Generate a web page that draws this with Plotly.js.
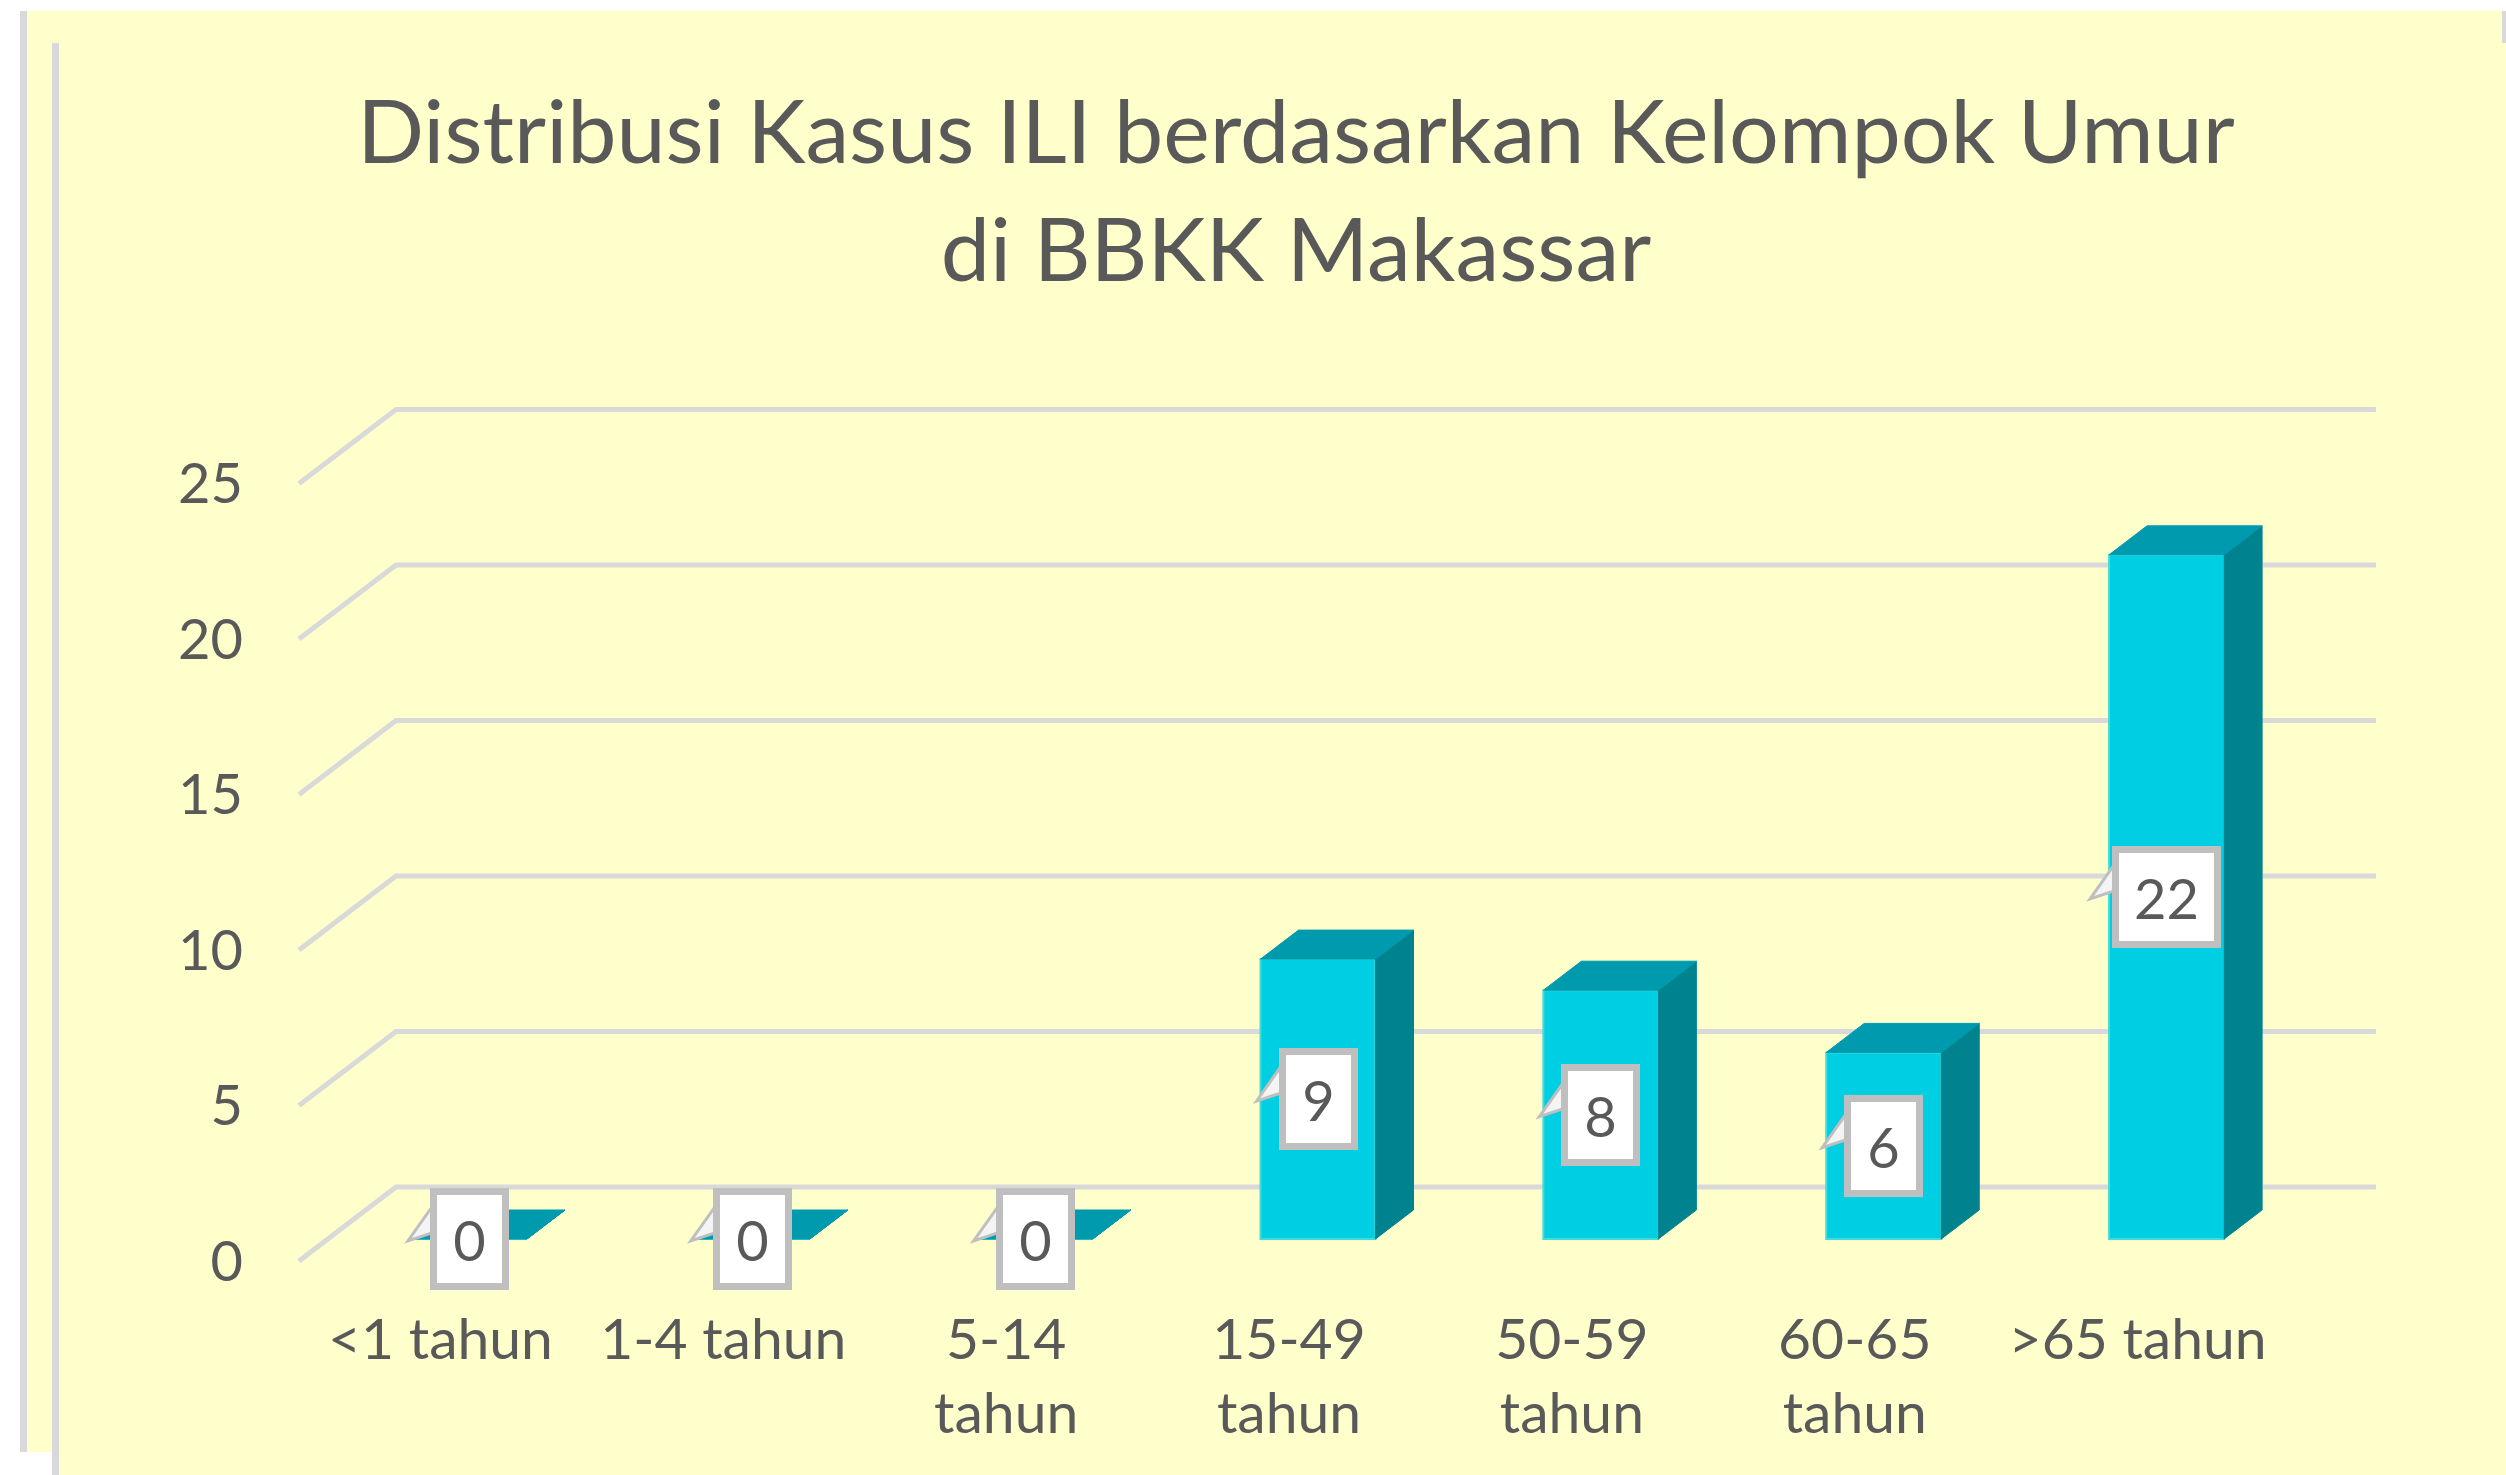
<!DOCTYPE html>
<html>
<head>
<meta charset="utf-8">
<script src="https://cdn.plot.ly/plotly-3.0.1.min.js"></script>
<style>
  html, body { margin: 0; padding: 0; background: #ffffff; }
  #chart { width: 2506px; height: 1475px; }
</style>
</head>
<body>
<div id="chart"></div>
<script>
// ---------------- data ----------------
const categories = ['&lt;1 tahun', '1-4 tahun', '5-14<br>tahun', '15-49<br>tahun', '50-59<br>tahun', '60-65<br>tahun', '&gt;65 tahun'];
const values = [0, 0, 0, 9, 8, 6, 22];
const yTicks = [0, 5, 10, 15, 20, 25];
const titleLine1 = 'Distribusi Kasus ILI berdasarkan Kelompok Umur';
const titleLine2 = 'di BBKK Makassar';

// ---------------- geometry (pixels) ----------------
const W = 2506, H = 1475;
const FRONT_LEFT = 299, FRONT_ZERO = 1261;
const PX_CAT = 282.86, PX_VAL = 31.1;
const PLOT_L = 289, PLOT_R = 2386, PLOT_T = 402, PLOT_B = 1271;
const WALL_DX = 97, WALL_DY = 74;       // depth of the whole floor/back wall
const BAR_OFF_DX = 29, BAR_OFF_DY = 22; // front face of the bars
const BAR_DX = 38, BAR_DY = 29;         // depth of each bar
const BAR_W = 115;

const cx = px => px / PX_CAT, cy = px => px / PX_VAL;
const xMin = -0.5 - cx(FRONT_LEFT - PLOT_L);
const xMax = -0.5 + cx(PLOT_R - FRONT_LEFT);
const yMin = -cy(PLOT_B - FRONT_ZERO);
const yMax = cy(FRONT_ZERO - PLOT_T);
const nCat = categories.length;
const wallDX = cx(WALL_DX), wallDY = cy(WALL_DY);
const offX = cx(BAR_OFF_DX), offY = cy(BAR_OFF_DY);
const dX = cx(BAR_DX), dY = cy(BAR_DY);
const bw = cx(BAR_W);

const FONT = 'Lato, "Open Sans", sans-serif';
const TXT = '#595959';
const GRID = '#D9D9D9';

// paper-coordinate helpers for decorative frame
const pw = PLOT_R - PLOT_L, ph = PLOT_B - PLOT_T;
const px2paper = px => (px - PLOT_L) / pw;
const py2paper = py => (PLOT_B - py) / ph;

const shapes = [];
function paperRect(x0, y0, x1, y1, color) {
  shapes.push({type: 'rect', xref: 'paper', yref: 'paper', layer: 'below',
    x0: px2paper(x0), x1: px2paper(x1), y0: py2paper(y1), y1: py2paper(y0),
    fillcolor: color, line: {width: 0}});
}
// outer white margins and gray frame lines
paperRect(0, 0, W, 11, '#FFFFFF');
paperRect(0, 0, 20, H, '#FFFFFF');
paperRect(0, 1452, 52, H, '#FFFFFF');
paperRect(20, 11, 27, 1452, GRID);
paperRect(52, 43, 59, H, GRID);
paperRect(2502, 11, W, 43, GRID);

// gridlines: front diagonal + back wall line
yTicks.forEach(v => {
  shapes.push({type: 'path', xref: 'x', yref: 'y', layer: 'below',
    path: `M ${-0.5},${v} L ${-0.5 + wallDX},${v + wallDY} L ${nCat - 0.5 + wallDX},${v + wallDY}`,
    line: {color: GRID, width: 5}});
});

// 3D bar side and top faces
const barX = values.map((v, i) => i + offX);
values.forEach((v, i) => {
  const xl = barX[i] - bw / 2, xr = barX[i] + bw / 2;
  const b = offY, t = offY + v;
  shapes.push({type: 'path', xref: 'x', yref: 'y', layer: 'above',
    path: `M ${xr},${b} L ${xr},${t} L ${xr + dX},${t + dY} L ${xr + dX},${b + dY} Z`,
    fillcolor: '#00838F', line: {color: '#00838F', width: 1}});
  shapes.push({type: 'path', xref: 'x', yref: 'y', layer: 'above',
    path: `M ${xl},${t} L ${xr},${t} L ${xr + dX},${t + dY} L ${xl + dX},${t + dY} Z`,
    fillcolor: '#009AAE', line: {color: '#009AAE', width: 1}});
});

// data label boxes (callouts)
const annotations = [];
values.forEach((v, i) => {
  const txt = String(v);
  const innerW = txt.length > 1 ? 95 : 65;
  const half = (innerW + 14) / 2;
  annotations.push({x: barX[i], y: offY + v / 2, xref: 'x', yref: 'y',
    text: txt, showarrow: false, bgcolor: '#FFFFFF', bordercolor: '#BFBFBF',
    borderwidth: 7, borderpad: 0, width: innerW, height: 88,
    font: {family: FONT, size: 56, color: TXT}});
  shapes.push({type: 'path', xref: 'x', yref: 'y', layer: 'above',
    xsizemode: 'pixel', ysizemode: 'pixel', xanchor: barX[i], yanchor: offY + v / 2,
    path: `M ${-half + 2},32 L ${-half - 22},-2 L ${-half + 2},6 Z`,
    fillcolor: '#F4F4F4', line: {color: '#BFBFBF', width: 3}});
});

const trace = {
  type: 'bar',
  x: barX,
  y: values,
  base: values.map(() => offY),
  width: values.map(() => bw),
  marker: {color: '#00CEE3', line: {color: '#3FDCDC', width: 2}},
  hoverinfo: 'skip'
};

const layout = {
  width: W, height: H, autosize: false,
  margin: {l: PLOT_L, r: W - PLOT_R, t: PLOT_T, b: H - PLOT_B, pad: 0},
  paper_bgcolor: '#FFFFCC',
  plot_bgcolor: 'rgba(0,0,0,0)',
  showlegend: false,
  title: {
    text: `<span style="font-size:88px">${titleLine1}</span><br><span style="font-size:88px">${titleLine2}</span>`,
    font: {family: FONT, size: 91, color: TXT},
    xref: 'container', yref: 'container',
    x: 1296 / W, xanchor: 'center',
    y: 1 - 163 / H, yanchor: 'top'
  },
  xaxis: {
    range: [xMin, xMax], tickmode: 'array',
    tickvals: categories.map((c, i) => i), ticktext: categories,
    showgrid: false, zeroline: false, showline: false, ticks: '',
    ticklabelstandoff: 30,
    tickfont: {family: FONT, size: 57, color: TXT}, fixedrange: true
  },
  yaxis: {
    range: [yMin, yMax], tickmode: 'array', tickvals: yTicks,
    showgrid: false, zeroline: false, showline: false, ticks: '',
    ticklabelstandoff: 45,
    tickfont: {family: FONT, size: 56, color: TXT}, fixedrange: true
  },
  shapes: shapes,
  annotations: annotations
};

Plotly.newPlot('chart', [trace], layout, {displayModeBar: false, staticPlot: true});
</script>
</body>
</html>
